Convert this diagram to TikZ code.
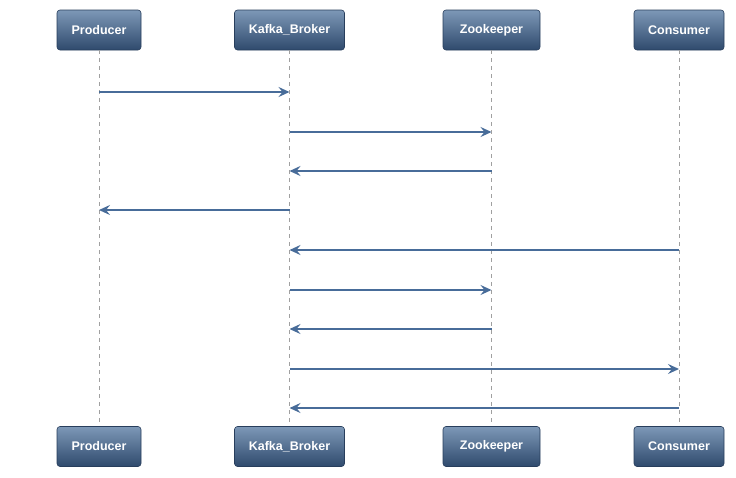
\documentclass[tikz,border=0pt]{standalone}
\usepackage{fontspec}
\setmainfont{Liberation Sans}
\usetikzlibrary{arrows.meta}
\begin{document}
\begin{tikzpicture}[x=1pt,y=-1pt]
	% Define colors
	\definecolor{boxtop}{RGB}{125, 152, 183}
	\definecolor{boxbottom}{RGB}{47, 74, 109}
	\definecolor{boxborder}{RGB}{40, 62, 92}
	\definecolor{msgcolor}{RGB}{72, 108, 153}
	\definecolor{lifecolor}{RGB}{160, 160, 160}
	\tikzset{
		actor/.style={rounded corners=3pt, draw=boxborder, line width=0.6pt,
			top color=boxtop, bottom color=boxbottom, text=white,
			font=\bfseries\fontsize{12.5}{14}\selectfont, minimum height=40pt, inner sep=0pt},
		lifeline/.style={lifecolor, line width=1pt, dash pattern=on 4pt off 4pt},
		msg/.style={msgcolor, line width=2.9pt, -{Stealth[length=11pt,width=10pt,inset=4pt]}}
	}
	\useasboundingbox (0,0) rectangle (736,477);

	% Participants (top)
	\node[actor, minimum width=84pt] (ptop) at (99,30) {Producer};
	\node[actor, minimum width=110pt] (ktop) at (289.5,30) {Kafka\_Broker};
	\node[actor, minimum width=97pt] (ztop) at (491.5,30) {Zookeeper};
	\node[actor, minimum width=90pt] (ctop) at (679,30) {Consumer};

	% Participants (bottom)
	\node[actor, minimum width=84pt] (pbot) at (99,446.5) {Producer};
	\node[actor, minimum width=110pt] (kbot) at (289.5,446.5) {Kafka\_Broker};
	\node[actor, minimum width=97pt] (zbot) at (491.5,446.5) {Zookeeper};
	\node[actor, minimum width=90pt] (cbot) at (679,446.5) {Consumer};

	% Lifelines
	\foreach \who in {p,k,z,c}
		\draw[lifeline] (\who top.south) -- (\who bot.north);

	% Message rows
	\foreach \row/\y in {1/92,2/132,3/171,4/210,5/250,6/290,7/329,8/369,9/408}
		\coordinate (m\row) at (0,\y);

	% Messages
	\draw[msg] (ptop |- m1) -- (ktop |- m1);
	\draw[msg] (ktop |- m2) -- (ztop |- m2);
	\draw[msg] (ztop |- m3) -- (ktop |- m3);
	\draw[msg] (ktop |- m4) -- (ptop |- m4);
	\draw[msg] (ctop |- m5) -- (ktop |- m5);
	\draw[msg] (ktop |- m6) -- (ztop |- m6);
	\draw[msg] (ztop |- m7) -- (ktop |- m7);
	\draw[msg] (ktop |- m8) -- (ctop |- m8);
	\draw[msg] (ctop |- m9) -- (ktop |- m9);
\end{tikzpicture}
\end{document}
